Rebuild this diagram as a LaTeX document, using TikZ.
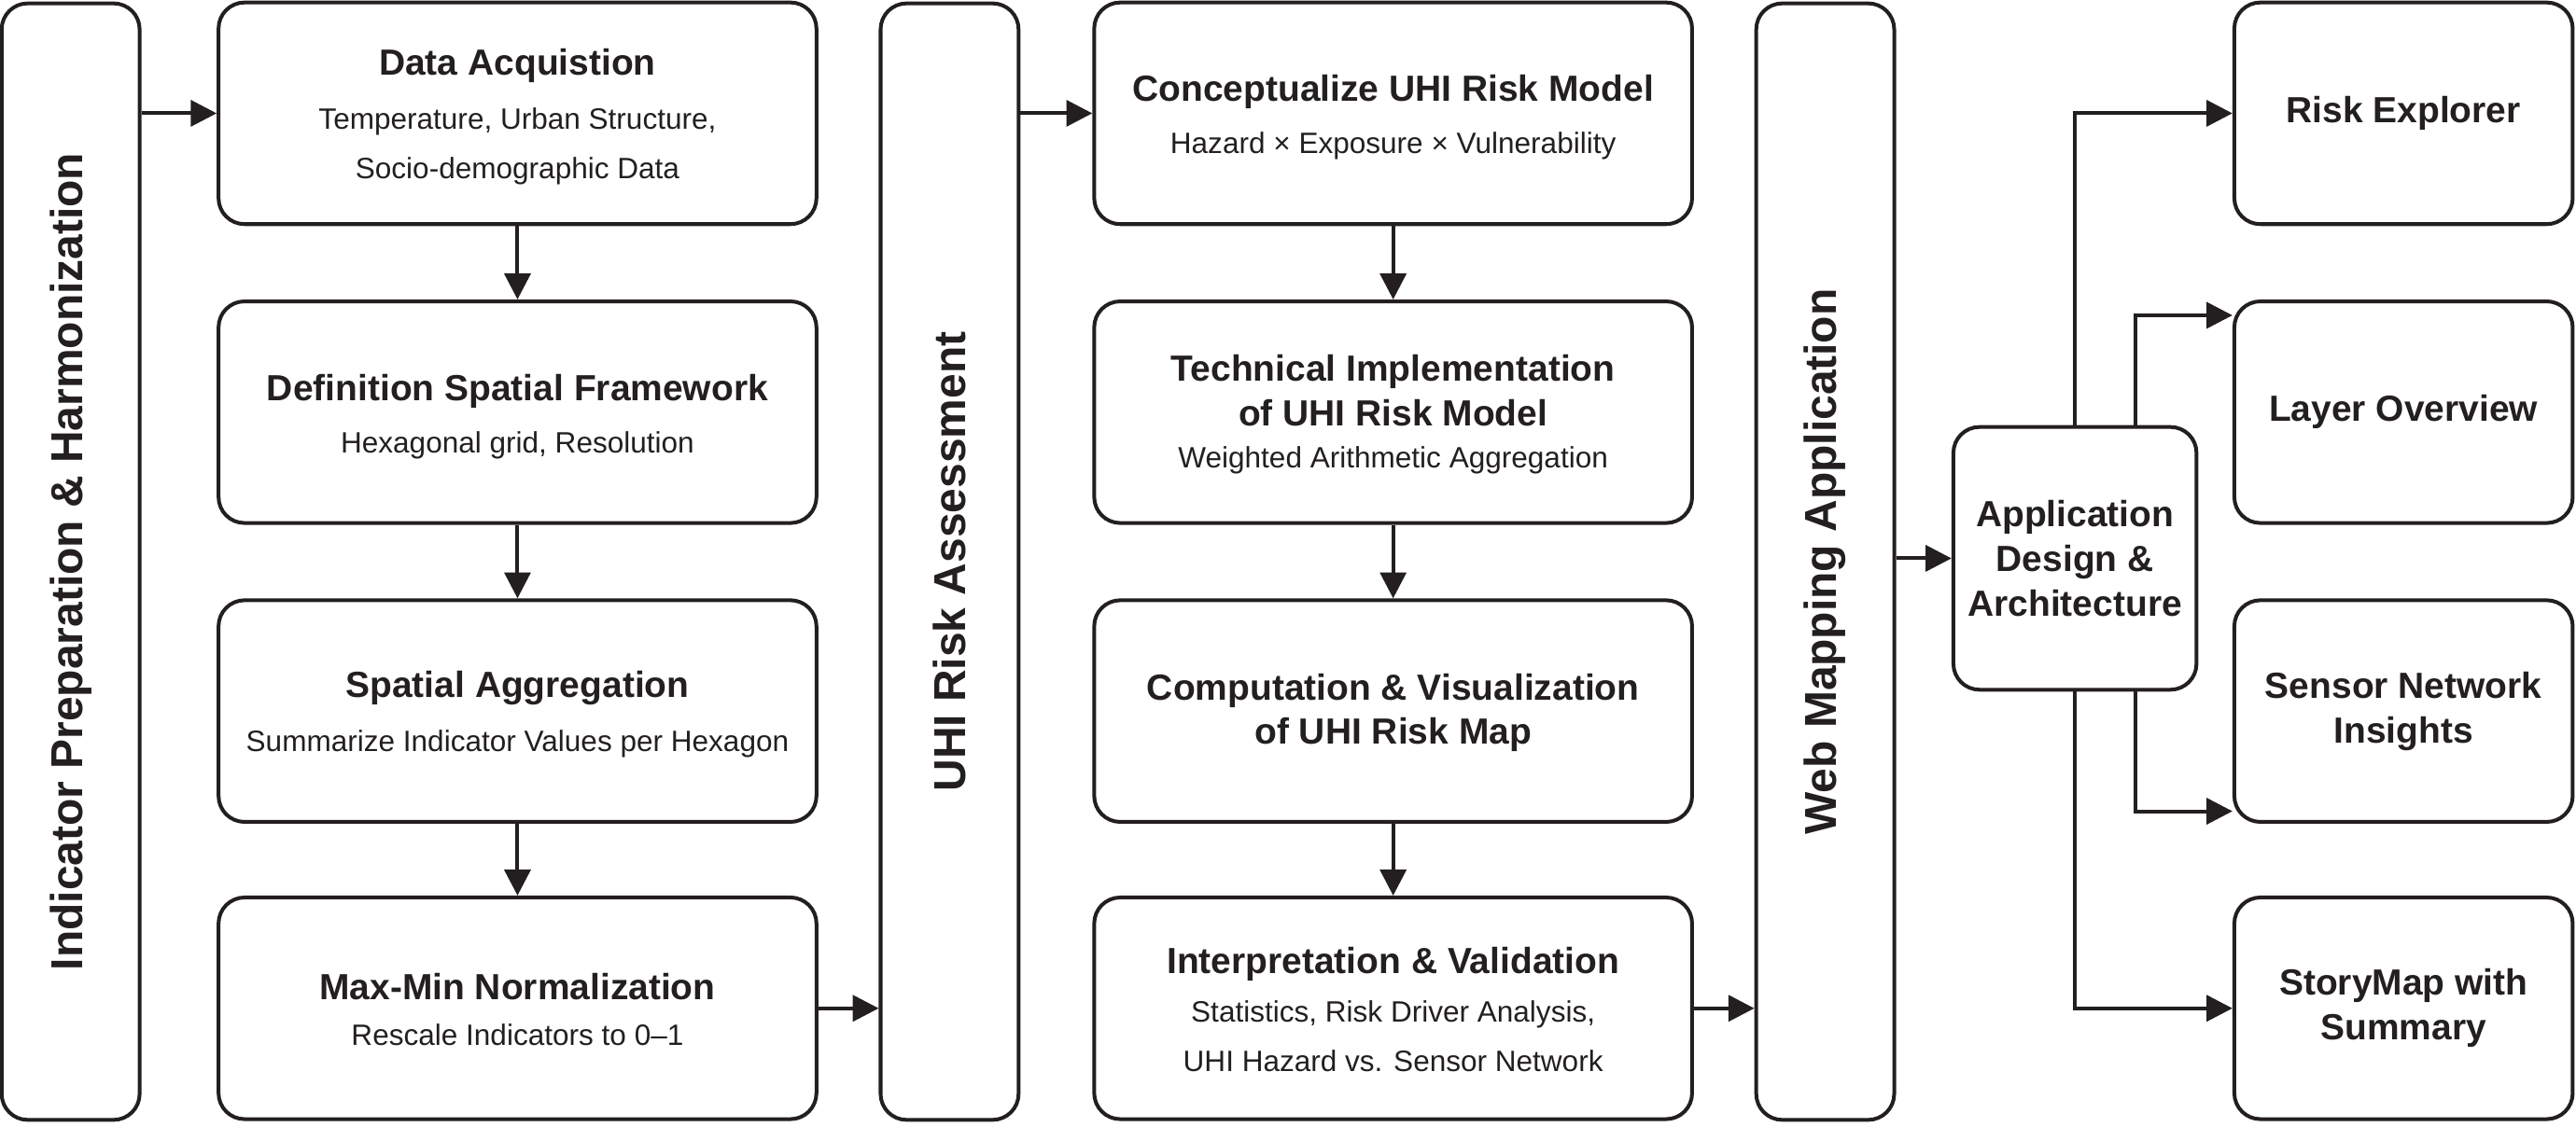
\documentclass[tikz,border=0pt]{standalone}
\usepackage{fontspec}
\setmainfont{Liberation Sans}
\usetikzlibrary{arrows.meta}
\definecolor{ink}{HTML}{231F20}
\begin{document}
\begin{tikzpicture}[x=0.02cm,y=-0.02cm,
  every node/.style={text=ink},
  box/.style={draw=ink,line width=1.3pt,rounded corners=9pt,align=center,inner sep=0pt},
  tall/.style={box,minimum width=1.68cm,minimum height=13.6cm},
  stepbox/.style={box,minimum width=7.28cm,minimum height=2.7cm},
  side/.style={box,minimum width=4.12cm,minimum height=2.7cm},
  ttl/.style={font=\fontsize{12.6}{15.5}\selectfont\bfseries,align=center},
  sub/.style={font=\fontsize{10.2}{17}\selectfont,align=center},
  vt/.style={rotate=90,font=\fontsize{15.5}{18}\selectfont\bfseries},
  arr/.style={draw=ink,line width=1.3pt,-{Triangle[length=9pt,width=9pt]}}]
\useasboundingbox (0,0) rectangle (1568,686);
% tall boxes
\node[tall] (L) at (43,342) {};
\node[vt] at (L) {Indicator Preparation \& Harmonization};
\node[tall] (U) at (578,342) {};
\node[vt] at (U) {UHI Risk Assessment};
\node[tall] (W) at (1111,342) {};
\node[vt] at (W) {Web Mapping Application};
% column 1
\node[stepbox] (a1) at (315,69) {};
\node[ttl] at (315,40) {Data Acquistion};
\node[sub] at (315,89) {Temperature, Urban Structure,\\Socio-demographic Data};
\node[stepbox] (a2) at (315,251) {};
\node[ttl] at (315,238) {Definition Spatial Framework};
\node[sub] at (315,271) {Hexagonal grid, Resolution};
\node[stepbox] (a3) at (315,433) {};
\node[ttl] at (315,419) {Spatial Aggregation};
\node[sub] at (315,453) {Summarize Indicator Values per Hexagon};
\node[stepbox] (a4) at (315,614) {};
\node[ttl] at (315,601) {Max-Min Normalization};
\node[sub] at (315,630) {Rescale Indicators to 0–1};
% column 2
\node[stepbox] (b1) at (848,69) {};
\node[ttl] at (848,56) {Conceptualize UHI Risk Model};
\node[sub] at (848,89) {Hazard × Exposure × Vulnerability};
\node[stepbox] (b2) at (848,251) {};
\node[ttl] at (848,238) {Technical Implementation\\of UHI Risk Model};
\node[sub] at (848,280) {Weighted Arithmetic Aggregation};
\node[stepbox] (b3) at (848,433) {};
\node[ttl] at (848,434) {Computation \& Visualization\\of UHI Risk Map};
\node[stepbox] (b4) at (848,614) {};
\node[ttl] at (848,587) {Interpretation \& Validation};
\node[sub] at (848,631) {Statistics, Risk Driver Analysis,\\UHI Hazard vs. Sensor Network};
% app
\node[box,ttl,minimum width=2.96cm,minimum height=3.2cm] (app) at (1263,340) {Application\\Design \&\\Architecture};
% right
\node[side,ttl] (r1) at (1463,69) {Risk Explorer};
\node[side,ttl] (r2) at (1463,251) {Layer Overview};
\node[side,ttl] (r3) at (1463,433) {Sensor Network\\Insights};
\node[side,ttl] (r4) at (1463,614) {StoryMap with\\Summary};
% arrows
\draw[arr] (L.east|-a1) -- (a1.west);
\draw[arr] (a1) -- (a2); \draw[arr] (a2) -- (a3); \draw[arr] (a3) -- (a4);
\draw[arr] (a4.east) -- (U.west|-a4);
\draw[arr] (U.east|-b1) -- (b1.west);
\draw[arr] (b1) -- (b2); \draw[arr] (b2) -- (b3); \draw[arr] (b3) -- (b4);
\draw[arr] (b4.east) -- (W.west|-b4);
\draw[arr] (W.east|-app) -- (app.west);
\draw[arr] (app.north) |- (r1.west);
\draw[arr] ([xshift=0.74cm]app.north) |- ([yshift=1.18cm]r2.west);
\draw[arr] ([xshift=0.74cm]app.south) |- ([yshift=-1.22cm]r3.west);
\draw[arr] (app.south) |- (r4.west);
\end{tikzpicture}
\end{document}
